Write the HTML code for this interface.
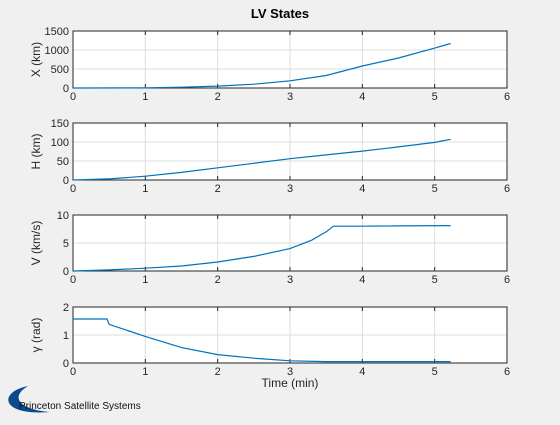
<!DOCTYPE html>
<html><head><meta charset="utf-8"><style>
body{margin:0;background:#f0f0f0;font-family:"Liberation Sans",sans-serif}
svg text{font-family:"Liberation Sans",sans-serif}
</style></head><body>
<svg id="c" width="560" height="420">
<rect width="560" height="420" fill="#f0f0f0"/>
<text x="280" y="18" font-size="13" font-weight="bold" text-anchor="middle" fill="#000">LV States</text>
<g>
<path d="M28 386 C-2 392 0 416 50 412 C22 410 8 398 28 386 Z" fill="#0d4a8c"/>
<text x="19" y="409" font-size="10" fill="#111">Princeton Satellite Systems</text>
</g>
</svg>
<script>
const tX=[0,1,1.5,2,2.5,3,3.5,4,4.5,5,5.22];
const vX=[0,5,20,50,100,190,330,580,790,1050,1170];
const tH=[0,0.5,1,1.5,2,2.5,3,3.5,4,4.5,5,5.22];
const vH=[0,3,10,20,32,44,56,66,76,87,99,107];
const tV=[0,0.5,1,1.5,2,2.5,3,3.3,3.5,3.6,4,4.5,5.22];
const vV=[0,0.2,0.5,0.9,1.6,2.6,4,5.5,7,8,8,8.05,8.1];
const tG=[0,0.47,0.5,1,1.5,2,2.5,3,3.5,4,4.5,5.22];
const vG=[1.57,1.57,1.38,0.95,0.55,0.3,0.17,0.08,0.05,0.05,0.05,0.05];
const xTicks=[0,1,2,3,4,5,6];
const panels=[
 {name:'x',top:31,bot:88,ymax:1500,yt:[0,500,1000,1500],lab:'X (km)',t:tX,v:vX},
 {name:'h',top:123,bot:180,ymax:150,yt:[0,50,100,150],lab:'H (km)',t:tH,v:vH},
 {name:'v',top:215,bot:271,ymax:10,yt:[0,5,10],lab:'V (km/s)',t:tV,v:vV},
 {name:'gamma',top:307,bot:363,ymax:2,yt:[0,1,2],lab:'\u03b3 (rad)',t:tG,v:vG}
];
const NS='http://www.w3.org/2000/svg',svg=document.getElementById('c');
const X0=73,X1=507,sx=t=>X0+(X1-X0)*t/6;
function mk(tag,at,p){const e=document.createElementNS(NS,tag);for(const k in at)e.setAttribute(k,at[k]);(p||svg).appendChild(e);return e;}
panels.forEach(p=>{
 const g=mk('g',{});
 
 
 const sy=v=>p.bot-(p.bot-p.top)*v/p.ymax;
 mk('rect',{x:X0,y:p.top,width:X1-X0,height:p.bot-p.top,fill:'#fff'},g);
 xTicks.forEach(t=>{
  mk('line',{x1:sx(t),x2:sx(t),y1:p.top,y2:p.bot,stroke:'#dcdcdc','stroke-width':1},g);
  mk('line',{x1:sx(t),x2:sx(t),y1:p.top,y2:p.top+4,stroke:'#262626'},g);
  mk('line',{x1:sx(t),x2:sx(t),y1:p.bot,y2:p.bot-4,stroke:'#262626'},g);
  const tx=mk('text',{x:sx(t),y:p.bot+12,'font-size':11,'text-anchor':'middle',fill:'#262626'},g);tx.textContent=t;
  
  
 });
 p.yt.forEach(v=>{
  mk('line',{x1:X0,x2:X1,y1:sy(v),y2:sy(v),stroke:'#dcdcdc'},g);
  const tx=mk('text',{x:X0-4,y:sy(v)+4,'font-size':11,'text-anchor':'end',fill:'#262626'},g);tx.textContent=v;
  
  
 });
 mk('rect',{x:X0,y:p.top,width:X1-X0,height:p.bot-p.top,fill:'none',stroke:'#262626'},g);
 const cy=(p.top+p.bot)/2;
 const yl=mk('text',{x:0,y:0,'font-size':12,'text-anchor':'middle',fill:'#262626',transform:`translate(40,${cy}) rotate(-90)`},g);yl.textContent=p.lab;
 
 
 const d=p.t.map((t,i)=>(i?'L':'M')+sx(t).toFixed(1)+' '+sy(p.v[i]).toFixed(1)).join(' ');
 const ln=mk('path',{d:d,fill:'none',stroke:'#0072bd','stroke-width':1.2},g);
 
 
});
const xl=mk('text',{x:290,y:387,'font-size':12,'text-anchor':'middle',fill:'#262626'});xl.textContent='Time (min)';


</script>
</body></html>
